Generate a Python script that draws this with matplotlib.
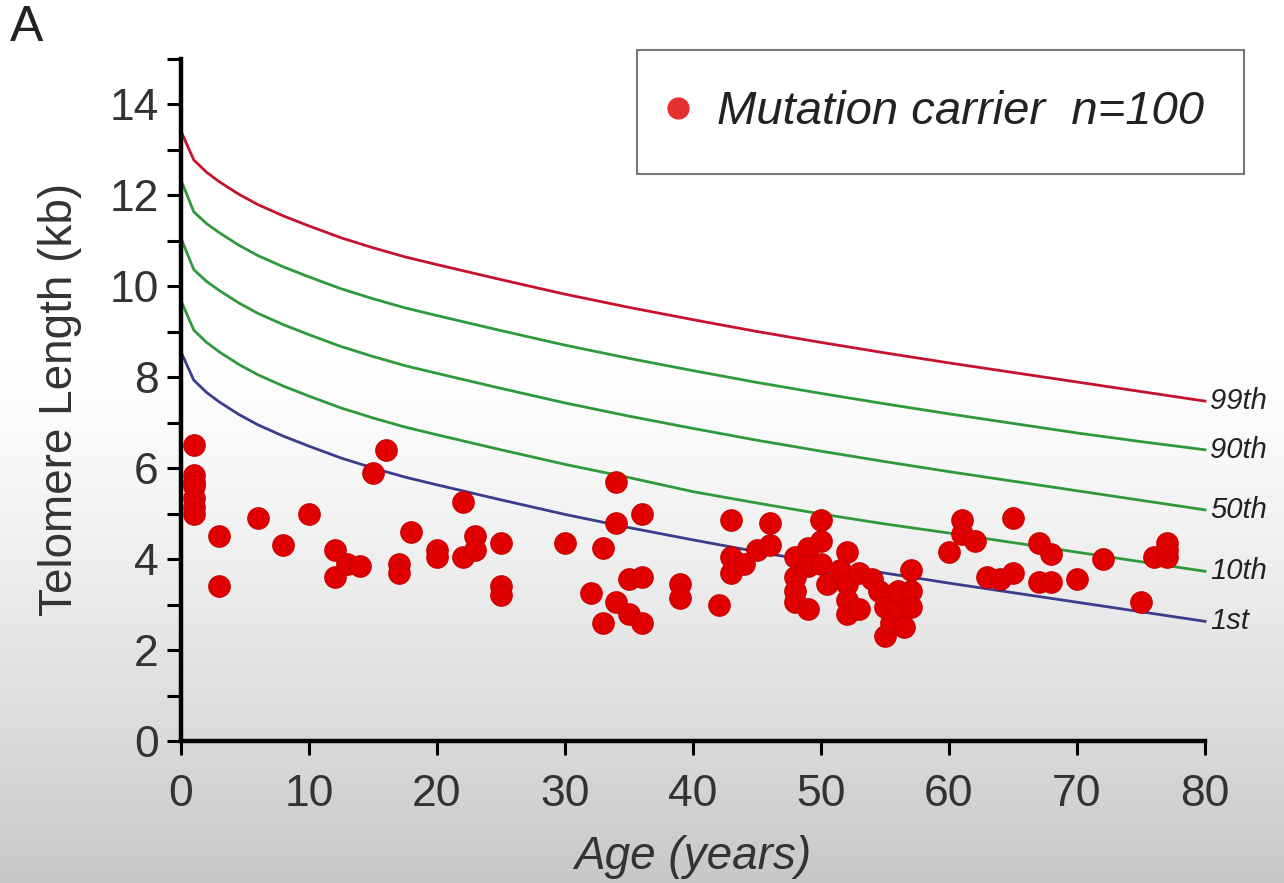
import numpy as np
import matplotlib.pyplot as plt
from matplotlib.lines import Line2D

# -------------------------
# Data
# -------------------------
curve_age = [0, 1, 2, 3, 4.5, 6, 8, 10, 12.5, 15, 17.5, 20, 25, 30, 35, 40,
             45, 50, 55, 60, 65, 70, 75, 80]

p99 = [13.40, 12.77, 12.50, 12.29, 12.02, 11.79, 11.54, 11.32, 11.06, 10.84,
       10.64, 10.47, 10.14, 9.82, 9.53, 9.26, 9.00, 8.76, 8.53, 8.31, 8.10,
       7.89, 7.68, 7.47]
p90 = [12.33, 11.63, 11.37, 11.17, 10.90, 10.67, 10.42, 10.20, 9.94, 9.72,
       9.52, 9.35, 9.02, 8.70, 8.41, 8.14, 7.88, 7.64, 7.41, 7.19, 6.98,
       6.77, 6.58, 6.40]
p50 = [11.05, 10.36, 10.10, 9.90, 9.63, 9.40, 9.15, 8.93, 8.67, 8.45,
       8.25, 8.08, 7.75, 7.43, 7.14, 6.87, 6.61, 6.37, 6.14, 5.92, 5.71,
       5.50, 5.29, 5.08]
p10 = [9.68, 9.03, 8.76, 8.55, 8.28, 8.05, 7.80, 7.58, 7.32, 7.10,
       6.90, 6.73, 6.40, 6.08, 5.79, 5.48, 5.23, 4.99, 4.77, 4.57, 4.36,
       4.15, 3.94, 3.73]
p1 = [8.55, 7.93, 7.66, 7.45, 7.18, 6.95, 6.70, 6.48, 6.22, 6.00,
      5.80, 5.63, 5.30, 4.98, 4.69, 4.42, 4.16, 3.92, 3.69, 3.47, 3.26,
      3.05, 2.84, 2.63]

curve_names = ["99th", "90th", "50th", "10th", "1st"]
curve_colors = ["#c4122f", "#2f9a3c", "#2f9a3c", "#2f9a3c", "#3c3c8c"]

# mutation carriers (age in years, telomere length in kb)
carrier_age = [1, 1, 1, 1, 1, 1, 1,
               3, 3, 6, 8, 10, 12, 12, 13, 14, 15, 16, 17, 17, 18, 20, 20,
               22, 22, 23, 23, 25, 25, 25, 30, 32, 33, 33, 34, 34, 34,
               35, 35, 36, 36, 36, 39, 39, 42, 43, 43, 43, 44, 45, 46, 46,
               48, 49, 50, 50, 49, 50, 48, 48, 48, 49, 50.5, 52, 51.5, 52,
               52, 52, 53, 53, 54, 54.5, 55, 55, 55.5, 56, 56, 57, 57, 57, 56.5,
               60, 61, 61, 62, 63, 64, 65, 65, 67, 68, 67, 68, 70, 72, 75,
               76, 77, 77, 77]
carrier_tl = [6.5, 5.85, 5.7, 5.6, 5.35, 5.15, 5.0,
              4.5, 3.4, 4.9, 4.3, 5.0, 4.2, 3.6, 3.9, 3.85, 5.9, 6.4, 3.9, 3.7, 4.6, 4.2, 4.05,
              5.25, 4.05, 4.5, 4.2, 4.35, 3.4, 3.2, 4.35, 3.25, 4.25, 2.6, 5.7, 4.8, 3.05,
              3.55, 2.8, 5.0, 3.6, 2.6, 3.45, 3.15, 3.0, 4.85, 4.05, 3.7, 3.9, 4.2, 4.3, 4.8,
              4.05, 4.25, 4.85, 4.4, 3.85, 3.9, 3.6, 3.3, 3.05, 2.9, 3.45, 4.15, 3.75, 3.45,
              3.1, 2.8, 2.9, 3.7, 3.55, 3.3, 2.95, 2.3, 2.6, 2.95, 3.3, 3.75, 3.3, 2.95, 2.5,
              4.15, 4.85, 4.55, 4.4, 3.6, 3.55, 3.7, 4.9, 4.35, 4.1, 3.5, 3.5, 3.55, 4.0, 3.05,
              4.05, 4.35, 4.05, 4.2]

# -------------------------
# Figure
# -------------------------
W, H = 1284, 883
fig = plt.figure(figsize=(W / 100, H / 100), dpi=100)

# screenshot-like background: white on top fading to grey at the bottom
bg = fig.add_axes([0, 0, 1, 1], zorder=-10)
rows = np.ones(H)
fade = np.linspace(0, 1, H - 340)
rows[340:] = 1 - 0.22 * fade ** 1.3
grad = np.repeat(rows[:, None], 4, axis=1)
bg.imshow(grad, cmap="gray", vmin=0, vmax=1, aspect="auto",
          extent=[0, 1, 0, 1], origin="upper")
bg.axis("off")

ax = fig.add_axes([181 / W, 142 / H, (1205 - 181) / W, (824.5 - 142) / H])
ax.set_facecolor("none")

for vals, name, col in zip([p99, p90, p50, p10, p1], curve_names, curve_colors):
    ax.plot(curve_age, vals, color=col, lw=2.0, zorder=2, clip_on=False)
    ax.text(80.4, vals[-1], name, fontsize=21, style="italic", color="#222222",
            va="center", ha="left", family="Liberation Sans")

ax.scatter(carrier_age, carrier_tl, s=240, color="#e00000", edgecolor="#c80000",
           linewidth=0.8, zorder=3, clip_on=False)

ax.set_xlim(0, 80)
ax.set_ylim(0, 15)
ax.set_xticks(range(0, 81, 10))
ax.set_yticks(range(0, 15, 2))
ax.set_yticks(range(1, 16, 2), minor=True)

for s in ["top", "right"]:
    ax.spines[s].set_visible(False)
for s in ["left", "bottom"]:
    ax.spines[s].set_linewidth(3.2)
    ax.spines[s].set_color("black")

ax.tick_params(axis="both", which="both", direction="out", length=10, width=2.2,
               color="black")
ax.tick_params(axis="y", labelsize=32, pad=6, labelcolor="#333333")
ax.tick_params(axis="x", labelsize=32, pad=14, labelcolor="#333333")
for lab in ax.get_yticklabels() + ax.get_xticklabels():
    lab.set_family("Liberation Sans")

ax.set_ylabel("Telomere Length (kb)", fontsize=33, color="#333333",
              family="Liberation Sans", labelpad=20)
ax.set_xlabel("Age (years)", fontsize=33, style="italic", color="#333333",
              family="Liberation Sans", labelpad=14)

# legend
handle = Line2D([], [], marker="o", ls="none", markersize=15,
                markerfacecolor="#e53030", markeredgecolor="#e53030")
leg = fig.legend([handle], ["Mutation carrier  n=100"], loc="upper left",
                 bbox_to_anchor=(637 / W, 1 - 50 / H), borderaxespad=0,
                 prop={"family": "Liberation Sans", "style": "italic", "size": 34},
                 frameon=True, fancybox=False, borderpad=0.85,
                 handlelength=0.05, handletextpad=0.8)
leg.get_frame().set_edgecolor("#555555")
leg.get_frame().set_linewidth(1.5)
for t in leg.get_texts():
    t.set_color("#222222")

fig.text(10 / W, 1 - 28 / H, "A", fontsize=36, family="Liberation Sans",
         va="center", ha="left", color="#222222")

fig.savefig("out.png", dpi=100)
